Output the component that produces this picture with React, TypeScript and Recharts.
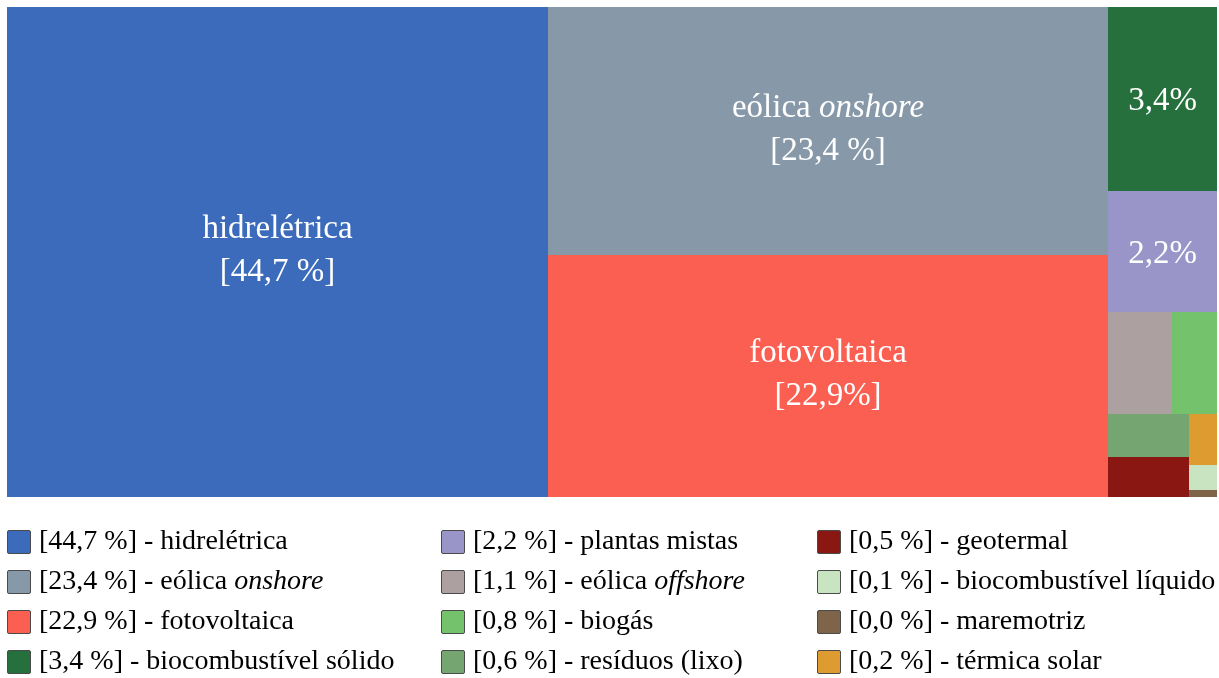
import { Treemap } from 'recharts';

// Participação de cada fonte renovável na geração (%)
const sources = [
  'hidrelétrica',
  'eólica onshore',
  'fotovoltaica',
  'biocombustível sólido',
  'plantas mistas',
  'eólica offshore',
  'biogás',
  'resíduos (lixo)',
  'geotermal',
  'térmica solar',
  'biocombustível líquido',
  'maremotriz',
];
const shares = [44.7, 23.4, 22.9, 3.38, 2.22, 1.1, 0.78, 0.59, 0.54, 0.24, 0.12, 0.03];
const colors = [
  '#3b6bba',
  '#8799a8',
  '#fa5f51',
  '#26703d',
  '#9a95c9',
  '#aca0a0',
  '#74c26c',
  '#75a570',
  '#8b1712',
  '#de9b30',
  '#c8e4c0',
  '#7e6448',
];

// ordem da legenda (por coluna)
const legendOrder = [
  'hidrelétrica',
  'eólica onshore',
  'fotovoltaica',
  'biocombustível sólido',
  'plantas mistas',
  'eólica offshore',
  'biogás',
  'resíduos (lixo)',
  'geotermal',
  'biocombustível líquido',
  'maremotriz',
  'térmica solar',
];

const italicWords = ['onshore', 'offshore'];
const tightPercent = ['fotovoltaica'];

const FONT = 'Liberation Serif';

const fmt = (v: number) => v.toFixed(1).replace('.', ',');

const treeData = sources.map((name, i) => ({ name, size: shares[i], color: colors[i] }));

function nameParts(name: string) {
  return name.split(' ').map((w, i) => ({
    text: (i ? ' ' : '') + w,
    italic: italicWords.includes(w),
  }));
}

function Tile(props: any) {
  const { x, y, width, height, depth, name, size, color } = props;
  if (depth !== 1) return null;
  const cx = x + width / 2;
  const cy = y + height / 2;

  let label = null;
  if (width >= 300 && height >= 100) {
    const pct = tightPercent.includes(name) ? `[${fmt(size)}%]` : `[${fmt(size)} %]`;
    label = (
      <text textAnchor="middle" fill="#fff" fontFamily={FONT} fontSize={33}>
        <tspan x={cx} y={cy - 14}>
          {nameParts(name).map((p, i) => (
            <tspan key={i} fontStyle={p.italic ? 'italic' : 'normal'}>
              {p.text}
            </tspan>
          ))}
        </tspan>
        <tspan x={cx} y={cy + 29}>
          {pct}
        </tspan>
      </text>
    );
  } else if (width >= 100 && height >= 100) {
    label = (
      <text x={cx} y={cy + 11} textAnchor="middle" fill="#fff" fontFamily={FONT} fontSize={33}>
        {`${fmt(size)}%`}
      </text>
    );
  }

  return (
    <g>
      <rect x={x} y={y} width={width} height={height} fill={color} stroke="none" />
      {label}
    </g>
  );
}

function LegendItem({ name }: { name: string }) {
  const i = sources.indexOf(name);
  return (
    <div style={{ display: 'flex', alignItems: 'center', height: 40 }}>
      <div
        style={{
          width: 22,
          height: 22,
          background: colors[i],
          border: '1px solid #4a4a4a',
          borderRadius: 2,
          marginRight: 8,
          flexShrink: 0,
        }}
      />
      <span style={{ fontFamily: FONT, fontSize: 28, whiteSpace: 'nowrap', position: 'relative', top: -2 }}>
        {`[${fmt(shares[i])} %] - `}
        {nameParts(name).map((p, k) => (
          <span key={k} style={{ fontStyle: p.italic ? 'italic' : 'normal' }}>
            {p.text}
          </span>
        ))}
      </span>
    </div>
  );
}

export default function App() {
  return (
    <div style={{ position: 'fixed', left: 7, top: 7, width: 1212, fontFamily: FONT, color: '#000' }}>
      <Treemap
        width={1210}
        height={490}
        data={treeData}
        dataKey="size"
        nameKey="name"
        aspectRatio={0.5 * (1 + Math.sqrt(5))}
        isAnimationActive={false}
        content={<Tile />}
      />
      <div
        style={{
          marginTop: 25,
          display: 'grid',
          gridTemplateColumns: '434px 376px 400px',
          gridTemplateRows: 'repeat(4, 40px)',
          gridAutoFlow: 'column',
        }}
      >
        {legendOrder.map((name) => (
          <LegendItem key={name} name={name} />
        ))}
      </div>
    </div>
  );
}
